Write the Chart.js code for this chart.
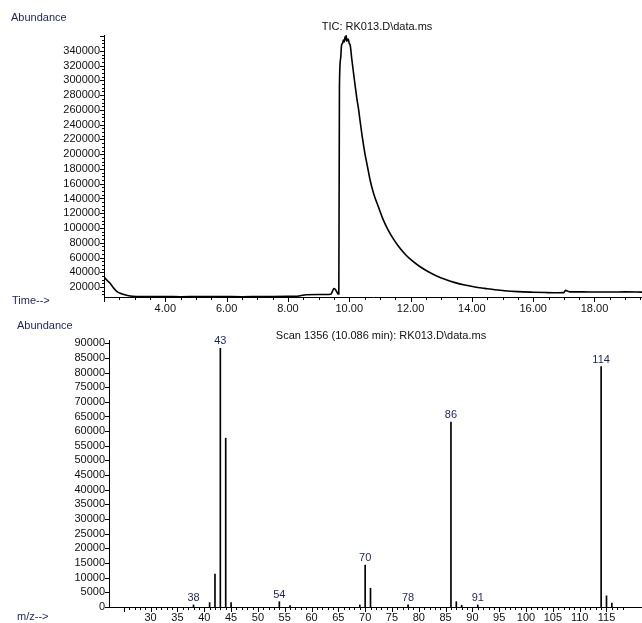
<!DOCTYPE html>
<html>
<head>
<meta charset="utf-8">
<title>TIC: RK013.D\data.ms</title>
<script src="https://cdn.jsdelivr.net/npm/chart.js@4.4.1/dist/chart.umd.min.js"></script>
<style>
  body { margin: 0; background: #fff; }
  .wrap { position: relative; width: 642px; height: 623px; }
  canvas { position: absolute; left: 0; }
  #ticChart { top: 0; }
  #specChart { top: 318px; }
</style>
</head>
<body>
<div class="wrap">
  <canvas id="ticChart" width="642" height="318"></canvas>
  <canvas id="specChart" width="642" height="305"></canvas>
</div>
<script>
// TOTAL ION CHROMATOGRAM (minutes / abundance)
const ticTimes = [
  2.00, 2.04, 2.10, 2.20, 2.30, 2.37, 2.45, 2.53, 2.65, 2.86, 3.10, 3.50,
  4.00, 4.50, 5.00, 5.50, 6.00, 6.50, 7.00, 7.50, 8.00, 8.30, 8.60, 9.00,
  9.40, 9.45, 9.50, 9.55, 9.60, 9.64, 9.66, 9.68, 9.72, 9.75, 9.78, 9.81,
  9.84, 9.86, 9.88, 9.90, 9.92, 9.94, 9.97, 10.00, 10.03, 10.08, 10.14, 10.19,
  10.25, 10.30, 10.35, 10.43, 10.51, 10.60, 10.68, 10.80, 10.95, 11.10, 11.27, 11.45,
  11.60, 11.80, 12.04, 12.30, 12.58, 12.85, 13.12, 13.45, 13.77, 14.10, 14.42, 14.75,
  15.07, 15.50, 16.00, 16.40, 16.80, 17.00, 17.05, 17.12, 17.20, 17.60, 18.00, 18.50,
  19.00, 19.55
];
const ticAbund = [
  33000, 31800, 29000, 25000, 19500, 16000, 13000, 11500, 9800, 7800, 7200, 7000,
  7000, 6900, 7000, 7100, 7000, 6900, 7000, 7100, 7300, 7600, 9600, 9800,
  10200, 14000, 18000, 16500, 13000, 10500, 10500, 291000, 330000, 348000, 350000, 354700,
  352000, 359000, 355000, 361000, 353000, 354700, 356000, 350000, 348000, 330000, 310000, 293700,
  275000, 262000, 246300, 222000, 201200, 182000, 165000, 146000, 128800, 112000, 97200, 84500,
  75500, 65500, 56000, 47800, 40700, 35000, 30400, 26000, 22700, 20000, 18200, 16400,
  15000, 13800, 13000, 12500, 12200, 12400, 15500, 14500, 13500, 13400, 13300, 13200,
  13400, 13100
];
const ticYTicks = [20000, 40000, 60000, 80000, 100000, 120000, 140000, 160000, 180000,
  200000, 220000, 240000, 260000, 280000, 300000, 320000, 340000];
const ticXTicks = [4, 6, 8, 10, 12, 14, 16, 18];

// MASS SPECTRUM, SCAN 1356
const specMz = [38, 41, 42, 43, 44, 45, 54, 56, 69, 70, 71, 78, 86, 87, 88, 91, 114, 115, 116];
const specAbund = [700, 1500, 11200, 88300, 57600, 1500, 1800, 500, 700, 14300, 6400, 700,
  63100, 1800, 600, 700, 82000, 3800, 1300];
const specLabelled = [38, 43, 54, 70, 78, 86, 91, 114];
const specYTicks = [0, 5000, 10000, 15000, 20000, 25000, 30000, 35000, 40000, 45000,
  50000, 55000, 60000, 65000, 70000, 75000, 80000, 85000, 90000];
const specXTicks = [30, 35, 40, 45, 50, 55, 60, 65, 70, 75, 80, 85, 90, 95, 100, 105, 110, 115];

const FAMILY = '"Liberation Sans", Arial, sans-serif';
const FONT = '11px ' + FAMILY;
const NAVY = '#1c2557';

function putText(ctx, s, x, y, align, color) {
    ctx.save();
    ctx.font = FONT;
    ctx.fillStyle = color;
    ctx.textAlign = align;
    ctx.textBaseline = 'middle';
    ctx.fillText(s, x, y);
    ctx.restore();
}

// small tick marks along both axes (minor + major)
function drawTicks(chart, t) {
    const { ctx, chartArea } = chart;
    const xs = chart.scales.x, ys = chart.scales.y;
    ctx.save();
    ctx.strokeStyle = '#000';
    ctx.lineWidth = 1;
    ctx.beginPath();
    for (let i = Math.ceil(xs.min / t.xMinor); i * t.xMinor <= xs.max; i++) {
        const v = i * t.xMinor;
        const len = (Math.abs(v / t.xMajor - Math.round(v / t.xMajor)) < 1e-6) ? 5 : 3;
        const px = Math.round(xs.getPixelForValue(v)) + 0.5;
        ctx.moveTo(px, chartArea.bottom);
        ctx.lineTo(px, chartArea.bottom + len);
    }
    for (let i = Math.ceil(ys.min / t.yMinor); i * t.yMinor <= ys.max; i++) {
        const v = i * t.yMinor;
        const len = (v % t.yMajor === 0) ? 4 : 2;
        const py = Math.round(ys.getPixelForValue(v)) + 0.5;
        ctx.moveTo(chartArea.left, py);
        ctx.lineTo(chartArea.left - len, py);
    }
    ctx.stroke();
    ctx.restore();
}

const ticDecor = {
    id: 'ticDecor',
    afterDraw(chart) {
        const ctx = chart.ctx;
        drawTicks(chart, { xMinor: 0.5, xMajor: 2, yMinor: 5000, yMajor: 20000 });
        putText(ctx, 'Abundance', 11, 18, 'left', NAVY);
        putText(ctx, 'Time-->', 12, 301, 'left', NAVY);
        putText(ctx, 'TIC: RK013.D\\data.ms', 377, 27, 'center', '#111');
    }
};

const specDecor = {
    id: 'specDecor',
    afterDraw(chart) {
        const ctx = chart.ctx;
        drawTicks(chart, { xMinor: 1, xMajor: 5, yMinor: 5000, yMajor: 5000 });
        putText(ctx, 'Abundance', 17, 8, 'left', NAVY);
        putText(ctx, 'm/z-->', 17, 299, 'left', NAVY);
        putText(ctx, 'Scan 1356 (10.086 min): RK013.D\\data.ms', 381, 18, 'center', '#111');
        // peak labels sit just above their bars
        const meta = chart.getDatasetMeta(0);
        specLabelled.forEach(mz => {
            const bar = meta.data[specMz.indexOf(mz)];
            putText(ctx, String(mz), bar.x, bar.y - 7, 'center', NAVY);
        });
    }
};

const tickFont = { family: FAMILY, size: 11 };

// TIC LINE
new Chart(document.getElementById('ticChart'), {
    type: 'scatter',
    data: {
        datasets: [{
            data: ticTimes.map((t, i) => ({ x: t, y: ticAbund[i] })),
            showLine: true,
            borderColor: '#000',
            borderWidth: 1.6,
            pointRadius: 0,
            cubicInterpolationMode: 'monotone'
        }]
    },
    options: {
        responsive: false,
        devicePixelRatio: 1,
        animation: false,
        layout: { padding: { top: 35, left: 0, right: 0, bottom: 0 } },
        scales: {
            x: {
                type: 'linear', min: 2.0, max: 19.55,
                grid: { display: false, drawTicks: false },
                border: { display: true, color: '#000', width: 1 },
                ticks: { font: tickFont, color: '#111', padding: 5, autoSkip: false, maxRotation: 0,
                         callback: v => v.toFixed(2) },
                afterBuildTicks: s => { s.ticks = ticXTicks.map(v => ({ value: v })); },
                afterFit: s => { s.height = 21; }
            },
            y: {
                type: 'linear', min: 6500, max: 361500,
                grid: { display: false, drawTicks: false },
                border: { display: true, color: '#000', width: 1 },
                ticks: { font: tickFont, color: '#111', padding: 4, autoSkip: false,
                         callback: v => String(v) },
                afterBuildTicks: s => { s.ticks = ticYTicks.map(v => ({ value: v })); },
                afterFit: s => { s.width = 104; }
            }
        },
        plugins: { legend: { display: false }, tooltip: { enabled: false } }
    },
    plugins: [ticDecor]
});

// MASS SPECTRUM BARS
new Chart(document.getElementById('specChart'), {
    type: 'bar',
    data: {
        datasets: [{
            data: specMz.map((m, i) => ({ x: m, y: specAbund[i] })),
            backgroundColor: '#000',
            barThickness: 1
        }]
    },
    options: {
        responsive: false,
        devicePixelRatio: 1,
        animation: false,
        layout: { padding: { top: 22, left: 0, right: 0, bottom: 0 } },
        scales: {
            x: {
                type: 'linear', min: 25, max: 118.86,
                grid: { display: false, drawTicks: false },
                border: { display: true, color: '#000', width: 1 },
                ticks: { font: tickFont, color: '#111', padding: 4, autoSkip: false, maxRotation: 0 },
                afterBuildTicks: s => { s.ticks = specXTicks.map(v => ({ value: v })); },
                afterFit: s => { s.height = 16; }
            },
            y: {
                type: 'linear', min: 0, max: 91100,
                grid: { display: false, drawTicks: false },
                border: { display: true, color: '#000', width: 1 },
                ticks: { font: tickFont, color: '#111', padding: 4, autoSkip: false,
                         callback: v => String(v) },
                afterBuildTicks: s => { s.ticks = specYTicks.map(v => ({ value: v })); },
                afterFit: s => { s.width = 109; }
            }
        },
        plugins: { legend: { display: false }, tooltip: { enabled: false } }
    },
    plugins: [specDecor]
});
</script>
</body>
</html>
